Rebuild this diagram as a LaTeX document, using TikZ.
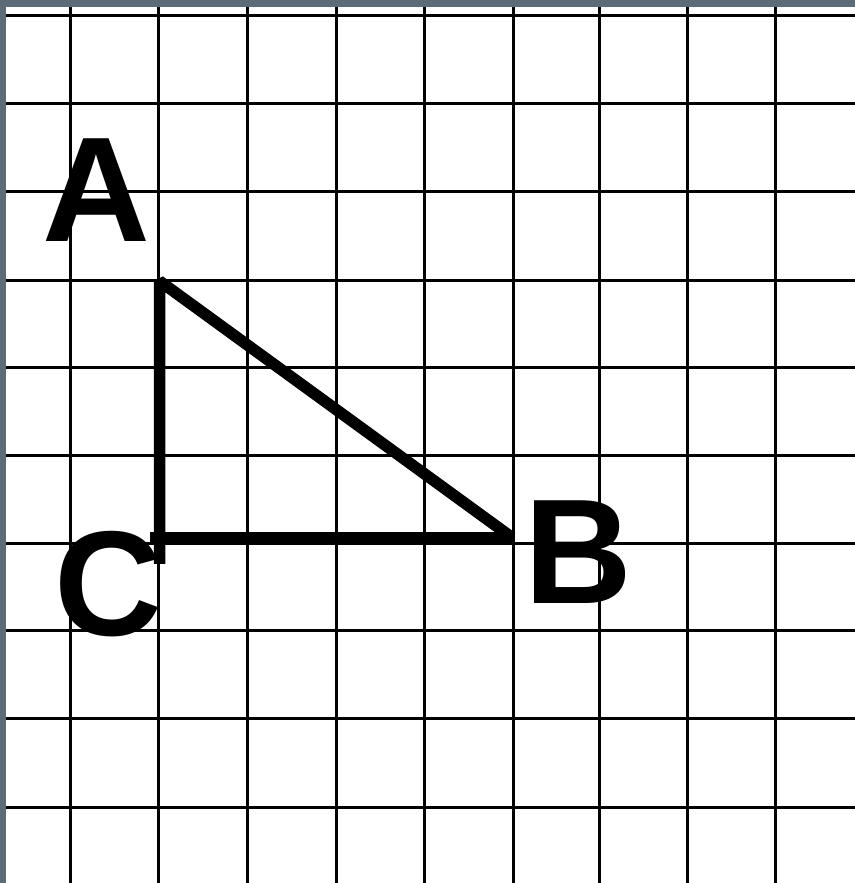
\documentclass[tikz,border=0pt]{standalone}
\usepackage{fontspec}
\setmainfont{Liberation Sans}
\definecolor{frame}{RGB}{91,107,120}
\tikzset{
  gridline/.style={black, line width=0.06cm},
  triline/.style={black, line width=0.23cm},
  vlabel/.style={anchor=base, inner sep=0pt, font=\fontsize{85}{92}\bfseries\selectfont}
}
\begin{document}
\begin{tikzpicture}[x=0.02cm, y=-0.02cm]
  \useasboundingbox (0, 0) rectangle (855, 883);
  % Paper and frame
  \fill[white] (0, 0) rectangle (855, 883);
  \fill[frame] (0, 0) rectangle (855, 7);
  \fill[frame] (0, 0) rectangle (6, 883);

  % Grid
  \foreach \x in {70, 158, 247, 336, 424, 513, 599, 687, 775}
    \draw[gridline] (\x, 7) -- (\x, 883);
  \foreach \y in {15, 103, 191, 280, 367, 455, 543, 630, 718, 807}
    \draw[gridline] (6, \y) -- (855, \y);

  % Triangle
  \coordinate (A) at (159.5, 281);
  \coordinate (B) at (512, 537.5);
  \coordinate (C) at (159.5, 537.5);
  \draw[triline, line join=bevel, shorten >=-15] (B) -- (A) -- (C);
  \draw[triline, shorten >=-5.5] (B) -- (C);

  % Labels
  \node[vlabel] (labA) at (96.5, 241) {A};
  \node[vlabel] (labB) at (578, 603) {B};
  \node[vlabel] (labC) at (108, 635) {C};
\end{tikzpicture}
\end{document}
